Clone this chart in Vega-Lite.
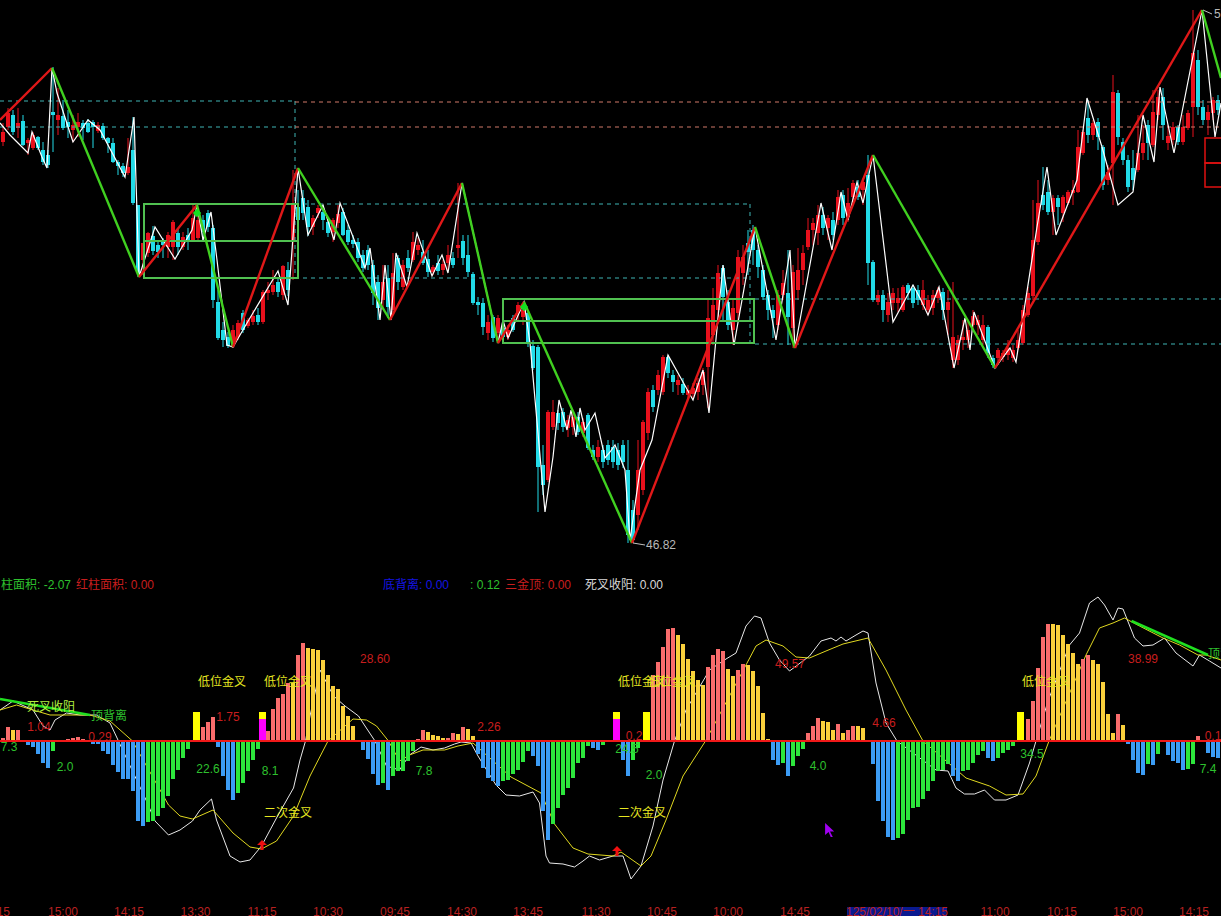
{"$schema":"https://vega.github.io/schema/vega-lite/v6.json","width":1221,"height":916,"autosize":{"type":"fit","contains":"padding"},"padding":0,"background":"#000000","config":{"view":{"stroke":null}},"resolve":{"scale":{"y":"independent"}},
"encoding":{"x":{"field":"i","type":"quantitative","axis":null,"scale":{"domain":[-0.6,243.6],"nice":false,"zero":false,"padding":0}}},
"datasets":{
"candles":[{"i":0,"o":54.84,"c":55.04,"h":55.22,"l":54.76},{"i":1,"o":55.14,"c":55.42,"h":55.52,"l":55.08},{"i":2,"o":55.38,"c":55.04,"h":55.48,"l":54.98},{"i":3,"o":55.12,"c":55.22,"h":55.52,"l":54.92},{"i":4,"o":55.26,"c":54.78,"h":55.38,"l":54.76},{"i":5,"o":54.82,"c":54.88,"h":54.92,"l":54.58},{"i":6,"o":54.72,"c":54.98,"h":55.04,"l":54.68},{"i":7,"o":54.94,"c":54.72,"h":54.96,"l":54.68},{"i":8,"o":54.68,"c":54.44,"h":54.84,"l":54.38},{"i":9,"o":54.58,"c":54.38,"h":54.68,"l":54.32},{"i":10,"o":55.44,"c":55.38,"h":56.34,"l":54.64},{"i":11,"o":55.28,"c":55.38,"h":55.92,"l":54.98},{"i":12,"o":55.36,"c":55.12,"h":55.68,"l":55.08},{"i":13,"o":55.24,"c":55.14,"h":55.48,"l":54.92},{"i":14,"o":55.08,"c":55.18,"h":55.38,"l":54.84},{"i":15,"o":55.14,"c":55.24,"h":55.42,"l":54.94},{"i":16,"o":55.22,"c":55.12,"h":55.28,"l":54.88},{"i":17,"o":55.22,"c":55.04,"h":55.30,"l":55.02},{"i":18,"o":55.24,"c":55.14,"h":55.28,"l":54.72},{"i":19,"o":55.06,"c":55.18,"h":55.24,"l":55.02},{"i":20,"o":55.16,"c":54.92,"h":55.22,"l":54.88},{"i":21,"o":54.92,"c":54.82,"h":54.94,"l":54.62},{"i":22,"o":54.82,"c":54.44,"h":54.92,"l":54.42},{"i":23,"o":54.44,"c":54.36,"h":54.48,"l":54.18},{"i":24,"o":54.36,"c":54.22,"h":54.42,"l":54.14},{"i":25,"o":54.22,"c":54.34,"h":54.92,"l":54.18},{"i":26,"o":54.68,"c":53.62,"h":55.34,"l":53.58},{"i":27,"o":53.58,"c":52.22,"h":53.58,"l":52.14},{"i":28,"o":52.48,"c":52.82,"h":52.82,"l":52.18},{"i":29,"o":52.62,"c":53.02,"h":53.04,"l":52.54},{"i":30,"o":52.96,"c":52.66,"h":53.16,"l":52.58},{"i":31,"o":52.78,"c":52.64,"h":52.88,"l":52.52},{"i":32,"o":52.88,"c":52.78,"h":52.92,"l":52.52},{"i":33,"o":52.74,"c":52.98,"h":53.04,"l":52.52},{"i":34,"o":52.74,"c":53.24,"h":53.28,"l":52.48},{"i":35,"o":53.02,"c":52.74,"h":53.12,"l":52.58},{"i":36,"o":52.74,"c":52.94,"h":53.04,"l":52.68},{"i":37,"o":52.98,"c":52.86,"h":53.12,"l":52.68},{"i":38,"o":52.88,"c":53.32,"h":53.58,"l":52.86},{"i":39,"o":52.92,"c":53.28,"h":53.38,"l":52.88},{"i":40,"o":53.28,"c":53.04,"h":53.38,"l":52.88},{"i":41,"o":53.42,"c":53.14,"h":53.48,"l":53.04},{"i":42,"o":53.12,"c":51.68,"h":53.18,"l":51.52},{"i":43,"o":51.64,"c":50.92,"h":51.88,"l":50.88},{"i":44,"o":51.08,"c":50.88,"h":51.24,"l":50.74},{"i":45,"o":50.94,"c":50.76,"h":51.04,"l":50.72},{"i":46,"o":50.76,"c":51.08,"h":51.18,"l":50.72},{"i":47,"o":50.94,"c":51.22,"h":51.28,"l":50.88},{"i":48,"o":51.42,"c":51.08,"h":51.48,"l":51.02},{"i":49,"o":51.16,"c":51.28,"h":51.32,"l":51.12},{"i":50,"o":51.24,"c":51.36,"h":51.48,"l":51.18},{"i":51,"o":51.38,"c":51.24,"h":51.52,"l":51.18},{"i":52,"o":51.24,"c":51.84,"h":51.88,"l":51.20},{"i":53,"o":51.82,"c":51.88,"h":52.04,"l":51.68},{"i":54,"o":51.84,"c":51.98,"h":52.28,"l":51.78},{"i":55,"o":52.04,"c":51.84,"h":52.12,"l":51.74},{"i":56,"o":51.78,"c":52.36,"h":52.38,"l":51.68},{"i":57,"o":52.28,"c":51.88,"h":52.44,"l":51.76},{"i":58,"o":52.84,"c":53.62,"h":54.28,"l":52.08},{"i":59,"o":53.54,"c":53.28,"h":53.88,"l":53.12},{"i":60,"o":53.72,"c":53.42,"h":53.88,"l":53.28},{"i":61,"o":53.54,"c":53.14,"h":53.68,"l":52.96},{"i":62,"o":53.14,"c":53.32,"h":53.38,"l":52.98},{"i":63,"o":53.42,"c":53.52,"h":53.58,"l":53.32},{"i":64,"o":53.44,"c":53.28,"h":53.58,"l":53.08},{"i":65,"o":53.24,"c":53.02,"h":53.32,"l":52.94},{"i":66,"o":53.04,"c":53.28,"h":53.32,"l":52.84},{"i":67,"o":53.22,"c":53.40,"h":53.58,"l":53.12},{"i":68,"o":53.44,"c":52.98,"h":53.52,"l":52.96},{"i":69,"o":53.08,"c":52.84,"h":53.18,"l":52.78},{"i":70,"o":52.88,"c":52.80,"h":52.98,"l":52.72},{"i":71,"o":52.84,"c":52.52,"h":52.92,"l":52.44},{"i":72,"o":52.58,"c":52.32,"h":52.68,"l":52.24},{"i":73,"o":52.68,"c":52.38,"h":52.78,"l":52.28},{"i":74,"o":52.38,"c":51.82,"h":52.48,"l":51.58},{"i":75,"o":52.04,"c":51.52,"h":52.18,"l":51.28},{"i":76,"o":51.68,"c":52.04,"h":52.38,"l":51.48},{"i":77,"o":52.12,"c":51.54,"h":52.38,"l":51.32},{"i":78,"o":51.48,"c":52.22,"h":52.62,"l":51.42},{"i":79,"o":52.52,"c":52.04,"h":52.58,"l":51.88},{"i":80,"o":51.94,"c":52.38,"h":52.48,"l":51.88},{"i":81,"o":52.52,"c":52.32,"h":52.68,"l":52.24},{"i":82,"o":52.48,"c":52.84,"h":53.04,"l":52.44},{"i":83,"o":52.68,"c":52.78,"h":52.92,"l":52.58},{"i":84,"o":52.64,"c":52.42,"h":52.88,"l":52.38},{"i":85,"o":52.50,"c":52.24,"h":52.68,"l":52.14},{"i":86,"o":52.24,"c":52.34,"h":52.38,"l":52.18},{"i":87,"o":52.42,"c":52.26,"h":52.58,"l":52.18},{"i":88,"o":52.28,"c":52.40,"h":52.48,"l":52.18},{"i":89,"o":52.42,"c":52.58,"h":52.78,"l":52.28},{"i":90,"o":52.52,"c":52.38,"h":52.64,"l":52.32},{"i":91,"o":52.72,"c":52.78,"h":54.02,"l":52.52},{"i":92,"o":52.86,"c":52.52,"h":52.98,"l":52.38},{"i":93,"o":52.58,"c":52.24,"h":52.98,"l":52.14},{"i":94,"o":52.20,"c":51.62,"h":52.24,"l":51.58},{"i":95,"o":51.64,"c":51.58,"h":51.74,"l":51.38},{"i":96,"o":51.62,"c":51.14,"h":51.72,"l":50.98},{"i":97,"o":51.02,"c":51.24,"h":51.38,"l":50.88},{"i":98,"o":51.34,"c":50.92,"h":51.38,"l":50.84},{"i":99,"o":51.02,"c":51.32,"h":51.38,"l":50.88},{"i":100,"o":51.12,"c":50.94,"h":51.24,"l":50.88},{"i":101,"o":50.94,"c":51.08,"h":51.18,"l":50.88},{"i":102,"o":51.32,"c":51.08,"h":51.38,"l":51.04},{"i":103,"o":51.44,"c":51.58,"h":51.64,"l":51.28},{"i":104,"o":51.34,"c":51.48,"h":51.58,"l":51.18},{"i":105,"o":51.42,"c":50.82,"h":51.48,"l":50.74},{"i":106,"o":50.76,"c":50.32,"h":50.88,"l":50.28},{"i":107,"o":50.74,"c":48.34,"h":50.78,"l":47.44},{"i":108,"o":48.38,"c":47.98,"h":48.78,"l":47.78},{"i":109,"o":48.08,"c":49.44,"h":49.48,"l":48.04},{"i":110,"o":49.14,"c":49.44,"h":49.68,"l":49.08},{"i":111,"o":49.42,"c":49.22,"h":49.48,"l":49.08},{"i":112,"o":49.44,"c":49.14,"h":49.52,"l":49.04},{"i":113,"o":49.12,"c":49.28,"h":49.38,"l":48.94},{"i":114,"o":49.14,"c":49.34,"h":49.48,"l":48.98},{"i":115,"o":49.34,"c":49.04,"h":49.44,"l":48.98},{"i":116,"o":49.02,"c":49.24,"h":49.32,"l":48.94},{"i":117,"o":49.38,"c":48.72,"h":49.42,"l":48.68},{"i":118,"o":48.68,"c":48.54,"h":48.78,"l":48.48},{"i":119,"o":48.54,"c":48.74,"h":48.88,"l":48.44},{"i":120,"o":48.68,"c":48.44,"h":48.78,"l":48.32},{"i":121,"o":48.78,"c":48.48,"h":48.88,"l":48.38},{"i":122,"o":48.74,"c":48.44,"h":48.88,"l":48.32},{"i":123,"o":48.68,"c":48.38,"h":48.82,"l":48.28},{"i":124,"o":48.78,"c":48.44,"h":48.88,"l":48.32},{"i":125,"o":48.28,"c":46.98,"h":48.88,"l":46.82},{"i":126,"o":47.48,"c":46.88,"h":47.68,"l":46.82},{"i":127,"o":47.38,"c":48.28,"h":48.88,"l":47.08},{"i":128,"o":47.88,"c":49.24,"h":49.28,"l":47.78},{"i":129,"o":49.02,"c":49.84,"h":49.92,"l":48.88},{"i":130,"o":49.88,"c":49.54,"h":49.98,"l":49.44},{"i":131,"o":49.88,"c":50.18,"h":50.28,"l":49.78},{"i":132,"o":49.84,"c":50.54,"h":50.58,"l":49.78},{"i":133,"o":50.54,"c":50.22,"h":50.58,"l":50.12},{"i":134,"o":50.18,"c":50.04,"h":50.28,"l":49.84},{"i":135,"o":49.98,"c":50.08,"h":50.18,"l":49.78},{"i":136,"o":50.00,"c":49.82,"h":50.12,"l":49.78},{"i":137,"o":49.78,"c":49.88,"h":49.98,"l":49.68},{"i":138,"o":49.80,"c":49.92,"h":50.02,"l":49.72},{"i":139,"o":49.84,"c":50.02,"h":50.12,"l":49.68},{"i":140,"o":49.98,"c":50.24,"h":50.32,"l":49.78},{"i":141,"o":50.34,"c":51.32,"h":51.68,"l":49.52},{"i":142,"o":50.98,"c":51.58,"h":51.92,"l":50.78},{"i":143,"o":51.48,"c":52.22,"h":52.38,"l":51.28},{"i":144,"o":52.32,"c":51.74,"h":52.38,"l":51.28},{"i":145,"o":51.64,"c":51.18,"h":51.88,"l":51.08},{"i":146,"o":51.08,"c":51.52,"h":51.68,"l":50.78},{"i":147,"o":51.42,"c":52.54,"h":52.68,"l":51.28},{"i":148,"o":52.22,"c":52.54,"h":52.78,"l":51.98},{"i":149,"o":52.82,"c":52.64,"h":53.08,"l":52.18},{"i":150,"o":53.08,"c":52.68,"h":53.18,"l":52.38},{"i":151,"o":52.68,"c":52.34,"h":52.78,"l":52.12},{"i":152,"o":52.28,"c":51.74,"h":52.38,"l":51.68},{"i":153,"o":51.78,"c":51.48,"h":51.88,"l":51.28},{"i":154,"o":51.48,"c":51.32,"h":51.58,"l":50.92},{"i":155,"o":51.18,"c":51.78,"h":51.88,"l":51.08},{"i":156,"o":51.78,"c":52.02,"h":52.28,"l":51.68},{"i":157,"o":51.82,"c":51.34,"h":52.68,"l":50.78},{"i":158,"o":51.12,"c":52.24,"h":52.38,"l":50.72},{"i":159,"o":51.88,"c":52.28,"h":52.72,"l":51.68},{"i":160,"o":52.28,"c":52.62,"h":52.78,"l":51.98},{"i":161,"o":52.74,"c":53.08,"h":53.32,"l":52.68},{"i":162,"o":53.08,"c":53.22,"h":53.32,"l":52.78},{"i":163,"o":53.02,"c":53.38,"h":53.58,"l":52.78},{"i":164,"o":53.38,"c":53.12,"h":53.54,"l":52.98},{"i":165,"o":53.12,"c":53.32,"h":53.38,"l":52.88},{"i":166,"o":53.28,"c":52.98,"h":53.44,"l":52.88},{"i":167,"o":53.28,"c":53.74,"h":53.88,"l":53.18},{"i":168,"o":53.78,"c":53.32,"h":53.88,"l":53.18},{"i":169,"o":53.34,"c":53.62,"h":53.92,"l":53.24},{"i":170,"o":53.74,"c":54.02,"h":54.08,"l":53.58},{"i":171,"o":53.94,"c":53.74,"h":54.08,"l":53.68},{"i":172,"o":53.88,"c":54.04,"h":54.12,"l":53.58},{"i":173,"o":54.18,"c":52.42,"h":54.58,"l":51.98},{"i":174,"o":52.44,"c":51.68,"h":52.48,"l":51.64},{"i":175,"o":51.64,"c":51.78,"h":51.88,"l":51.58},{"i":176,"o":51.78,"c":51.48,"h":51.88,"l":51.24},{"i":177,"o":51.38,"c":51.64,"h":51.82,"l":51.24},{"i":178,"o":51.62,"c":51.82,"h":51.92,"l":51.48},{"i":179,"o":51.62,"c":51.72,"h":51.92,"l":51.44},{"i":180,"o":51.48,"c":51.94,"h":51.98,"l":51.44},{"i":181,"o":51.98,"c":51.82,"h":52.02,"l":51.68},{"i":182,"o":51.92,"c":51.62,"h":51.98,"l":51.52},{"i":183,"o":51.88,"c":51.68,"h":51.98,"l":51.58},{"i":184,"o":51.58,"c":51.88,"h":52.08,"l":51.48},{"i":185,"o":51.48,"c":51.68,"h":51.78,"l":51.38},{"i":186,"o":51.52,"c":51.78,"h":51.88,"l":51.38},{"i":187,"o":51.72,"c":51.88,"h":51.94,"l":51.62},{"i":188,"o":51.84,"c":51.48,"h":51.92,"l":51.28},{"i":189,"o":51.48,"c":51.64,"h":51.88,"l":50.98},{"i":190,"o":50.48,"c":50.94,"h":52.04,"l":50.32},{"i":191,"o":50.48,"c":50.88,"h":50.98,"l":50.38},{"i":192,"o":50.88,"c":50.94,"h":51.28,"l":50.68},{"i":193,"o":50.88,"c":51.08,"h":51.28,"l":50.72},{"i":194,"o":51.18,"c":51.36,"h":51.48,"l":51.08},{"i":195,"o":51.18,"c":51.28,"h":51.38,"l":50.98},{"i":196,"o":50.88,"c":51.18,"h":51.38,"l":50.78},{"i":197,"o":51.14,"c":50.62,"h":51.18,"l":50.52},{"i":198,"o":50.52,"c":50.38,"h":50.58,"l":50.32},{"i":199,"o":50.52,"c":50.68,"h":50.72,"l":50.38},{"i":200,"o":50.54,"c":50.62,"h":50.68,"l":50.44},{"i":201,"o":50.58,"c":50.72,"h":50.88,"l":50.48},{"i":202,"o":50.52,"c":50.68,"h":50.78,"l":50.44},{"i":203,"o":50.72,"c":50.88,"h":51.08,"l":50.68},{"i":204,"o":50.82,"c":51.48,"h":51.58,"l":50.78},{"i":205,"o":51.38,"c":51.82,"h":51.94,"l":51.34},{"i":206,"o":51.76,"c":52.88,"h":53.68,"l":51.68},{"i":207,"o":52.84,"c":53.62,"h":54.08,"l":52.78},{"i":208,"o":53.78,"c":53.58,"h":54.34,"l":53.48},{"i":209,"o":53.84,"c":53.44,"h":54.08,"l":53.38},{"i":210,"o":53.44,"c":53.72,"h":53.78,"l":52.98},{"i":211,"o":53.72,"c":53.54,"h":53.78,"l":53.18},{"i":212,"o":53.42,"c":53.74,"h":53.78,"l":53.24},{"i":213,"o":53.62,"c":53.84,"h":53.88,"l":53.58},{"i":214,"o":53.82,"c":53.88,"h":54.08,"l":53.58},{"i":215,"o":53.84,"c":54.74,"h":55.08,"l":53.82},{"i":216,"o":54.62,"c":55.04,"h":55.08,"l":54.58},{"i":217,"o":55.32,"c":54.98,"h":55.68,"l":54.82},{"i":218,"o":54.98,"c":55.22,"h":55.28,"l":54.88},{"i":219,"o":55.24,"c":54.94,"h":55.32,"l":54.68},{"i":220,"o":54.74,"c":53.98,"h":54.78,"l":53.88},{"i":221,"o":54.08,"c":54.24,"h":54.38,"l":53.98},{"i":222,"o":54.42,"c":55.84,"h":56.18,"l":53.58},{"i":223,"o":55.82,"c":54.94,"h":55.88,"l":54.78},{"i":224,"o":54.84,"c":54.48,"h":54.92,"l":54.38},{"i":225,"o":54.48,"c":53.94,"h":54.58,"l":53.84},{"i":226,"o":54.32,"c":54.08,"h":54.68,"l":53.88},{"i":227,"o":54.28,"c":54.62,"h":55.38,"l":54.24},{"i":228,"o":54.62,"c":54.82,"h":55.18,"l":54.48},{"i":229,"o":55.18,"c":54.82,"h":55.28,"l":54.48},{"i":230,"o":54.78,"c":55.44,"h":55.88,"l":54.74},{"i":231,"o":55.38,"c":55.74,"h":55.88,"l":55.28},{"i":232,"o":55.74,"c":55.18,"h":55.92,"l":54.88},{"i":233,"o":54.82,"c":54.96,"h":55.18,"l":54.68},{"i":234,"o":54.88,"c":55.14,"h":55.24,"l":54.78},{"i":235,"o":55.14,"c":54.84,"h":55.18,"l":54.78},{"i":236,"o":54.84,"c":55.14,"h":55.38,"l":54.78},{"i":237,"o":55.12,"c":55.42,"h":55.48,"l":55.08},{"i":238,"o":55.54,"c":56.62,"h":57.48,"l":54.94},{"i":239,"o":56.48,"c":55.54,"h":56.68,"l":55.38},{"i":240,"o":55.54,"c":55.28,"h":55.68,"l":55.18},{"i":241,"o":55.28,"c":55.44,"h":55.58,"l":54.98},{"i":242,"o":55.42,"c":55.68,"h":55.74,"l":55.28},{"i":243,"o":55.68,"c":55.48,"h":55.78,"l":55.38}],
"close":[{"i":-0.6,"p":55.22},{"i":1.4,"p":54.98},{"i":5,"p":54.62},{"i":5.8,"p":55.04},{"i":7.8,"p":54.54},{"i":8.8,"p":54.32},{"i":9.8,"p":56.32},{"i":10.8,"p":55.82},{"i":14,"p":54.84},{"i":17,"p":55.28},{"i":19.4,"p":55.08},{"i":24.4,"p":54.14},{"i":26.2,"p":55.34},{"i":27.2,"p":52.14},{"i":30.4,"p":53.14},{"i":34.4,"p":52.5},{"i":37.8,"p":53.08},{"i":38.8,"p":53.58},{"i":40,"p":52.88},{"i":41.6,"p":53.44},{"i":42.8,"p":52.48},{"i":44.8,"p":50.78},{"i":46,"p":50.74},{"i":48.8,"p":51.22},{"i":55,"p":52.26},{"i":57,"p":51.58},{"i":59,"p":54.32},{"i":61,"p":52.98},{"i":64,"p":53.58},{"i":66.2,"p":52.88},{"i":67.4,"p":53.62},{"i":72.4,"p":52.32},{"i":73.4,"p":52.72},{"i":75.4,"p":51.28},{"i":76.4,"p":52.38},{"i":77.6,"p":51.28},{"i":78.6,"p":52.62},{"i":80.8,"p":51.94},{"i":82.8,"p":53.02},{"i":85.8,"p":52.16},{"i":87.8,"p":52.58},{"i":89,"p":52.22},{"i":91.8,"p":54.02},{"i":99,"p":50.82},{"i":100,"p":51.28},{"i":101,"p":50.92},{"i":104.2,"p":51.64},{"i":105.4,"p":50.82},{"i":108.4,"p":47.44},{"i":110,"p":48.54},{"i":111.2,"p":49.68},{"i":112.8,"p":49.08},{"i":113.6,"p":49.48},{"i":114.6,"p":48.94},{"i":115.4,"p":49.52},{"i":116.4,"p":49.08},{"i":118.4,"p":49.42},{"i":120.4,"p":48.52},{"i":121.4,"p":48.64},{"i":122.4,"p":48.78},{"i":124.4,"p":48.28},{"i":125.4,"p":46.88},{"i":127.4,"p":48.28},{"i":129.8,"p":48.88},{"i":133,"p":50.58},{"i":138,"p":49.68},{"i":140,"p":50.28},{"i":141.2,"p":49.42},{"i":144,"p":52.38},{"i":146.2,"p":50.78},{"i":150.4,"p":53.14},{"i":154.6,"p":50.88},{"i":157.4,"p":52.68},{"i":158.4,"p":50.72},{"i":163.6,"p":53.62},{"i":165.8,"p":52.68},{"i":167.6,"p":53.84},{"i":169,"p":53.28},{"i":170.8,"p":54.04},{"i":172,"p":53.62},{"i":174,"p":54.58},{"i":178,"p":51.24},{"i":182,"p":51.98},{"i":183.4,"p":51.72},{"i":185,"p":51.38},{"i":187.2,"p":51.94},{"i":190.2,"p":50.32},{"i":192.4,"p":51.32},{"i":193.4,"p":50.68},{"i":194.2,"p":51.44},{"i":198.4,"p":50.32},{"i":201.4,"p":50.72},{"i":202.6,"p":50.44},{"i":206.8,"p":53.14},{"i":208.8,"p":54.34},{"i":210.6,"p":52.98},{"i":214.8,"p":54.08},{"i":216.8,"p":55.72},{"i":219.8,"p":54.74},{"i":223,"p":53.58},{"i":226,"p":53.84},{"i":228,"p":55.38},{"i":230.2,"p":54.44},{"i":231.4,"p":55.94},{"i":234.2,"p":54.62},{"i":239.8,"p":57.48},{"i":242.4,"p":54.94},{"i":243.6,"p":55.62}],
"zig":[{"s":1,"k":"up","i":-0.6,"p":55.28},{"s":1,"k":"up","i":9.8,"p":56.32},{"s":2,"k":"down","i":9.8,"p":56.32},{"s":2,"k":"down","i":27.2,"p":52.14},{"s":3,"k":"up","i":27.2,"p":52.14},{"s":3,"k":"up","i":38.8,"p":53.58},{"s":4,"k":"down","i":38.8,"p":53.58},{"s":4,"k":"down","i":46,"p":50.74},{"s":5,"k":"up","i":46,"p":50.74},{"s":5,"k":"up","i":59,"p":54.32},{"s":6,"k":"down","i":59,"p":54.32},{"s":6,"k":"down","i":77.4,"p":51.28},{"s":7,"k":"up","i":77.4,"p":51.28},{"s":7,"k":"up","i":91.8,"p":54.02},{"s":8,"k":"down","i":91.8,"p":54.02},{"s":8,"k":"down","i":99,"p":50.82},{"s":9,"k":"up","i":99,"p":50.82},{"s":9,"k":"up","i":104.2,"p":51.64},{"s":10,"k":"down","i":104.2,"p":51.64},{"s":10,"k":"down","i":125.8,"p":46.82},{"s":11,"k":"up","i":125.8,"p":46.82},{"s":11,"k":"up","i":150.4,"p":53.14},{"s":12,"k":"down","i":150.4,"p":53.14},{"s":12,"k":"down","i":158.4,"p":50.72},{"s":13,"k":"up","i":158.4,"p":50.72},{"s":13,"k":"up","i":174,"p":54.58},{"s":14,"k":"down","i":174,"p":54.58},{"s":14,"k":"down","i":198.4,"p":50.32},{"s":15,"k":"up","i":198.4,"p":50.32},{"s":15,"k":"up","i":239.8,"p":57.48},{"s":16,"k":"down","i":239.8,"p":57.48},{"s":16,"k":"down","i":243.6,"p":56.12}],
"boxes":[{"i":28.2,"i2":59,"p":53.6,"p2":52.86},{"i":28.2,"i2":59,"p":52.86,"p2":52.12},{"i":100,"i2":150.2,"p":51.7,"p2":51.26},{"i":100,"i2":150.2,"p":51.26,"p2":50.82}],
"redboxes":[{"i":240.4,"i2":246,"p":54.92,"p2":54.42},{"i":240.4,"i2":246,"p":54.42,"p2":53.94}],
"cyan":[{"i":-0.6,"i2":58.4,"p":55.66,"p2":55.66},{"i":-0.6,"i2":58.4,"p":55.14,"p2":55.14},{"i":58.4,"i2":58.4,"p":55.66,"p2":52.12},{"i":58.4,"i2":149.4,"p":53.6,"p2":53.6},{"i":58.4,"i2":149.4,"p":52.12,"p2":52.12},{"i":149.4,"i2":149.4,"p":53.6,"p2":50.8},{"i":150.4,"i2":243.6,"p":51.7,"p2":51.7},{"i":150.4,"i2":243.6,"p":50.8,"p2":50.8}],
"pinkd":[{"i":58.4,"i2":243.6,"p":55.64,"p2":55.64},{"i":58.4,"i2":243.6,"p":55.14,"p2":55.14}],
"lead":[{"i":126,"i2":128.4,"p":46.82,"p2":46.78},{"i":240,"i2":241.8,"p":57.48,"p2":57.4}],
"pricetext":[{"i":128.6,"p":46.78,"t":"46.82"},{"i":242.2,"p":57.4,"t":"57.48"}],
"diam":[{"i":38.8,"p":53.42},{"i":104.2,"p":51.54}],
"hist":[{"i":0,"v":3,"c":"p"},{"i":1,"v":14,"c":"p"},{"i":2,"v":11,"c":"y"},{"i":3,"v":11,"c":"p"},{"i":4,"v":1,"c":"y"},{"i":5,"v":-4,"c":"b"},{"i":6,"v":-6,"c":"b"},{"i":7,"v":-13,"c":"b"},{"i":8,"v":-22,"c":"b"},{"i":9,"v":-27,"c":"b"},{"i":10,"v":-10,"c":"g"},{"i":12,"v":1,"c":"p"},{"i":13,"v":2,"c":"p"},{"i":14,"v":3,"c":"p"},{"i":15,"v":4,"c":"p"},{"i":16,"v":2,"c":"p"},{"i":17,"v":1,"c":"y"},{"i":18,"v":-3,"c":"b"},{"i":19,"v":-3,"c":"b"},{"i":20,"v":-10,"c":"b"},{"i":21,"v":-13,"c":"b"},{"i":22,"v":-24,"c":"b"},{"i":23,"v":-31,"c":"b"},{"i":24,"v":-38,"c":"b"},{"i":25,"v":-38,"c":"b"},{"i":26,"v":-50,"c":"b"},{"i":27,"v":-80,"c":"b"},{"i":28,"v":-85,"c":"b"},{"i":29,"v":-81,"c":"g"},{"i":30,"v":-80,"c":"g"},{"i":31,"v":-75,"c":"g"},{"i":32,"v":-67,"c":"g"},{"i":33,"v":-55,"c":"g"},{"i":34,"v":-38,"c":"g"},{"i":35,"v":-29,"c":"g"},{"i":36,"v":-17,"c":"g"},{"i":37,"v":-8,"c":"g"},{"i":40,"v":14,"c":"p"},{"i":41,"v":19,"c":"p"},{"i":42,"v":24,"c":"p"},{"i":43,"v":-6,"c":"b"},{"i":44,"v":-35,"c":"b"},{"i":45,"v":-49,"c":"b"},{"i":46,"v":-59,"c":"b"},{"i":47,"v":-52,"c":"g"},{"i":48,"v":-42,"c":"g"},{"i":49,"v":-30,"c":"g"},{"i":50,"v":-19,"c":"g"},{"i":51,"v":-8,"c":"g"},{"i":53,"v":10,"c":"p"},{"i":54,"v":32,"c":"p"},{"i":55,"v":43,"c":"p"},{"i":56,"v":47,"c":"p"},{"i":57,"v":58,"c":"p"},{"i":58,"v":58,"c":"y"},{"i":59,"v":86,"c":"p"},{"i":60,"v":98,"c":"p"},{"i":61,"v":93,"c":"y"},{"i":62,"v":92,"c":"y"},{"i":63,"v":91,"c":"y"},{"i":64,"v":81,"c":"y"},{"i":65,"v":66,"c":"y"},{"i":66,"v":55,"c":"y"},{"i":67,"v":52,"c":"y"},{"i":68,"v":35,"c":"y"},{"i":69,"v":25,"c":"y"},{"i":70,"v":15,"c":"y"},{"i":72,"v":-9,"c":"b"},{"i":73,"v":-18,"c":"b"},{"i":74,"v":-33,"c":"b"},{"i":75,"v":-44,"c":"b"},{"i":76,"v":-42,"c":"g"},{"i":77,"v":-49,"c":"b"},{"i":78,"v":-35,"c":"g"},{"i":79,"v":-30,"c":"g"},{"i":80,"v":-30,"c":"g"},{"i":81,"v":-20,"c":"g"},{"i":82,"v":-10,"c":"g"},{"i":83,"v":2,"c":"p"},{"i":84,"v":11,"c":"p"},{"i":85,"v":9,"c":"y"},{"i":86,"v":6,"c":"y"},{"i":87,"v":5,"c":"y"},{"i":88,"v":3,"c":"y"},{"i":89,"v":3,"c":"p"},{"i":90,"v":8,"c":"p"},{"i":91,"v":7,"c":"y"},{"i":92,"v":14,"c":"p"},{"i":93,"v":12,"c":"y"},{"i":94,"v":5,"c":"y"},{"i":95,"v":-13,"c":"b"},{"i":96,"v":-27,"c":"b"},{"i":97,"v":-37,"c":"b"},{"i":98,"v":-40,"c":"b"},{"i":99,"v":-45,"c":"b"},{"i":100,"v":-40,"c":"g"},{"i":101,"v":-39,"c":"g"},{"i":102,"v":-33,"c":"g"},{"i":103,"v":-29,"c":"g"},{"i":104,"v":-21,"c":"g"},{"i":105,"v":-10,"c":"g"},{"i":106,"v":-15,"c":"b"},{"i":107,"v":-25,"c":"b"},{"i":108,"v":-70,"c":"b"},{"i":109,"v":-99,"c":"b"},{"i":110,"v":-83,"c":"g"},{"i":111,"v":-67,"c":"g"},{"i":112,"v":-54,"c":"g"},{"i":113,"v":-47,"c":"g"},{"i":114,"v":-37,"c":"g"},{"i":115,"v":-22,"c":"g"},{"i":116,"v":-17,"c":"g"},{"i":117,"v":-5,"c":"g"},{"i":118,"v":-7,"c":"b"},{"i":119,"v":-9,"c":"b"},{"i":120,"v":-4,"c":"g"},{"i":123,"v":5,"c":"p"},{"i":124,"v":-19,"c":"b"},{"i":125,"v":-35,"c":"b"},{"i":126,"v":-19,"c":"g"},{"i":127,"v":-7,"c":"g"},{"i":130,"v":66,"c":"p"},{"i":131,"v":79,"c":"p"},{"i":132,"v":94,"c":"p"},{"i":133,"v":112,"c":"p"},{"i":134,"v":113,"c":"p"},{"i":135,"v":106,"c":"y"},{"i":136,"v":97,"c":"y"},{"i":137,"v":82,"c":"y"},{"i":138,"v":70,"c":"y"},{"i":139,"v":61,"c":"y"},{"i":140,"v":56,"c":"y"},{"i":141,"v":74,"c":"p"},{"i":142,"v":86,"c":"p"},{"i":143,"v":92,"c":"p"},{"i":144,"v":90,"c":"p"},{"i":145,"v":72,"c":"y"},{"i":146,"v":65,"c":"y"},{"i":147,"v":71,"c":"p"},{"i":148,"v":77,"c":"p"},{"i":149,"v":76,"c":"y"},{"i":150,"v":70,"c":"y"},{"i":151,"v":55,"c":"y"},{"i":152,"v":28,"c":"y"},{"i":153,"v":2,"c":"y"},{"i":154,"v":-19,"c":"b"},{"i":155,"v":-24,"c":"b"},{"i":156,"v":-22,"c":"g"},{"i":157,"v":-35,"c":"b"},{"i":158,"v":-25,"c":"g"},{"i":159,"v":-15,"c":"g"},{"i":160,"v":-8,"c":"g"},{"i":161,"v":8,"c":"p"},{"i":162,"v":15,"c":"p"},{"i":163,"v":23,"c":"p"},{"i":164,"v":20,"c":"y"},{"i":165,"v":19,"c":"y"},{"i":166,"v":11,"c":"y"},{"i":167,"v":17,"c":"p"},{"i":168,"v":8,"c":"y"},{"i":169,"v":11,"c":"p"},{"i":170,"v":15,"c":"p"},{"i":171,"v":15,"c":"y"},{"i":172,"v":13,"c":"y"},{"i":174,"v":-23,"c":"b"},{"i":175,"v":-60,"c":"b"},{"i":176,"v":-80,"c":"b"},{"i":177,"v":-96,"c":"b"},{"i":178,"v":-99,"c":"b"},{"i":179,"v":-97,"c":"g"},{"i":180,"v":-93,"c":"g"},{"i":181,"v":-79,"c":"g"},{"i":182,"v":-67,"c":"g"},{"i":183,"v":-66,"c":"g"},{"i":184,"v":-58,"c":"g"},{"i":185,"v":-50,"c":"g"},{"i":186,"v":-40,"c":"g"},{"i":187,"v":-30,"c":"g"},{"i":188,"v":-29,"c":"g"},{"i":189,"v":-23,"c":"g"},{"i":190,"v":-35,"c":"b"},{"i":191,"v":-40,"c":"b"},{"i":192,"v":-30,"c":"g"},{"i":193,"v":-29,"c":"g"},{"i":194,"v":-22,"c":"g"},{"i":195,"v":-14,"c":"g"},{"i":196,"v":-10,"c":"g"},{"i":197,"v":-17,"c":"b"},{"i":198,"v":-20,"c":"b"},{"i":199,"v":-17,"c":"g"},{"i":200,"v":-12,"c":"g"},{"i":201,"v":-9,"c":"g"},{"i":202,"v":-5,"c":"g"},{"i":205,"v":22,"c":"p"},{"i":206,"v":40,"c":"p"},{"i":207,"v":73,"c":"p"},{"i":208,"v":104,"c":"p"},{"i":209,"v":117,"c":"p"},{"i":210,"v":117,"c":"y"},{"i":211,"v":116,"c":"y"},{"i":212,"v":106,"c":"y"},{"i":213,"v":97,"c":"y"},{"i":214,"v":88,"c":"y"},{"i":215,"v":77,"c":"y"},{"i":216,"v":82,"c":"p"},{"i":217,"v":86,"c":"p"},{"i":218,"v":81,"c":"y"},{"i":219,"v":77,"c":"y"},{"i":220,"v":59,"c":"y"},{"i":221,"v":27,"c":"y"},{"i":222,"v":8,"c":"y"},{"i":223,"v":27,"c":"p"},{"i":224,"v":16,"c":"y"},{"i":225,"v":-3,"c":"b"},{"i":226,"v":-19,"c":"b"},{"i":227,"v":-32,"c":"b"},{"i":228,"v":-34,"c":"b"},{"i":229,"v":-23,"c":"g"},{"i":230,"v":-24,"c":"b"},{"i":231,"v":-13,"c":"g"},{"i":232,"v":-1,"c":"g"},{"i":233,"v":-14,"c":"b"},{"i":234,"v":-20,"c":"b"},{"i":235,"v":-22,"c":"b"},{"i":236,"v":-29,"c":"b"},{"i":237,"v":-28,"c":"g"},{"i":238,"v":-23,"c":"g"},{"i":239,"v":5,"c":"p"},{"i":240,"v":-1,"c":"b"},{"i":241,"v":-12,"c":"b"},{"i":242,"v":-16,"c":"b"},{"i":243,"v":-17,"c":"b"}],
"signalY":[{"i":38.7,"v":29},{"i":128.7,"v":29},{"i":203.5,"v":29},{"i":51.9,"v":29},{"i":122.7,"v":29}],
"signalM":[{"i":51.9,"v":22},{"i":122.7,"v":22}],
"dif":[{"i":-0.6,"v":31},{"i":2,"v":40},{"i":6,"v":31},{"i":8,"v":15},{"i":9.4,"v":11},{"i":10.4,"v":21},{"i":12.7,"v":28},{"i":15.4,"v":26},{"i":18.7,"v":26},{"i":21.4,"v":18},{"i":23,"v":1},{"i":28.7,"v":-60},{"i":30.4,"v":-80},{"i":33.1,"v":-94},{"i":35.4,"v":-89},{"i":37.9,"v":-80},{"i":39.4,"v":-69},{"i":41.7,"v":-58},{"i":42.7,"v":-79},{"i":45.4,"v":-115},{"i":47.4,"v":-121},{"i":49.4,"v":-119},{"i":51.7,"v":-105},{"i":54.7,"v":-77},{"i":58.1,"v":-47},{"i":59.4,"v":-19},{"i":60.5,"v":0},{"i":61.4,"v":25},{"i":63.4,"v":71},{"i":66.1,"v":45},{"i":68.4,"v":35},{"i":71.1,"v":25},{"i":72.4,"v":15},{"i":74.4,"v":0},{"i":76.7,"v":-25},{"i":79.3,"v":-29},{"i":81.3,"v":-14},{"i":83.6,"v":-6},{"i":86,"v":-9},{"i":88.3,"v":-7},{"i":90.3,"v":-3},{"i":91.6,"v":-1},{"i":93.6,"v":-2},{"i":95,"v":-15},{"i":98.6,"v":-44},{"i":100.6,"v":-54},{"i":103.3,"v":-55},{"i":106,"v":-51},{"i":107.3,"v":-62},{"i":108.6,"v":-115},{"i":109.3,"v":-122},{"i":112,"v":-123},{"i":114.3,"v":-126},{"i":116,"v":-120},{"i":117.3,"v":-115},{"i":119.3,"v":-119},{"i":122,"v":-115},{"i":124,"v":-115},{"i":125.6,"v":-138},{"i":127.6,"v":-125},{"i":130,"v":-85},{"i":132,"v":-39},{"i":134.3,"v":0},{"i":136.6,"v":31},{"i":141.3,"v":71},{"i":144.6,"v":82},{"i":146.6,"v":88},{"i":148.6,"v":115},{"i":150.3,"v":125},{"i":151.6,"v":123},{"i":153.3,"v":98},{"i":155.3,"v":81},{"i":157.3,"v":70},{"i":161.3,"v":85},{"i":163.6,"v":100},{"i":165.6,"v":103},{"i":166.6,"v":100},{"i":167.6,"v":104},{"i":168.6,"v":100},{"i":170.6,"v":106},{"i":172,"v":110},{"i":173,"v":108},{"i":174.6,"v":58},{"i":176.6,"v":18},{"i":178.8,"v":0},{"i":186.6,"v":-29},{"i":189,"v":-30},{"i":190.6,"v":-47},{"i":192.3,"v":-53},{"i":194.3,"v":-53},{"i":196.3,"v":-49},{"i":198.3,"v":-59},{"i":200.6,"v":-59},{"i":203,"v":-54},{"i":205.3,"v":-22},{"i":206.6,"v":0},{"i":209,"v":40},{"i":213.3,"v":96},{"i":215.3,"v":108},{"i":217.3,"v":138},{"i":219,"v":144},{"i":220.3,"v":136},{"i":222,"v":121},{"i":223,"v":133},{"i":224,"v":132},{"i":226.3,"v":103},{"i":228,"v":95},{"i":230,"v":96},{"i":232.3,"v":103},{"i":234.6,"v":88},{"i":238,"v":75},{"i":239.3,"v":86},{"i":241.3,"v":80},{"i":243.6,"v":73}],
"dea":[{"i":-0.6,"v":31},{"i":2.7,"v":36},{"i":6,"v":31},{"i":9.4,"v":26},{"i":13.4,"v":26},{"i":17.4,"v":26},{"i":21.4,"v":20},{"i":25.9,"v":0},{"i":33.1,"v":-64},{"i":35.4,"v":-75},{"i":37.9,"v":-78},{"i":42,"v":-69},{"i":46,"v":-92},{"i":49.4,"v":-106},{"i":51.7,"v":-108},{"i":54.7,"v":-100},{"i":58.1,"v":-75},{"i":61.4,"v":-35},{"i":65,"v":0},{"i":70,"v":22},{"i":72.7,"v":21},{"i":74.7,"v":15},{"i":77.1,"v":0},{"i":79.3,"v":-20},{"i":81.3,"v":-14},{"i":84,"v":-9},{"i":88.3,"v":-9},{"i":91,"v":-5},{"i":94,"v":-2},{"i":101.6,"v":-36},{"i":104.6,"v":-44},{"i":107.6,"v":-52},{"i":110.3,"v":-83},{"i":114,"v":-107},{"i":117,"v":-113},{"i":122,"v":-115},{"i":123.6,"v":-111},{"i":127.6,"v":-125},{"i":129.6,"v":-115},{"i":132.6,"v":-79},{"i":136,"v":-35},{"i":140.5,"v":0},{"i":148.6,"v":76},{"i":150.6,"v":95},{"i":152.6,"v":101},{"i":156,"v":95},{"i":158.6,"v":84},{"i":161.3,"v":83},{"i":164.6,"v":90},{"i":168,"v":97},{"i":173,"v":103},{"i":176.6,"v":71},{"i":180.6,"v":31},{"i":184,"v":0},{"i":192.6,"v":-37},{"i":197.3,"v":-45},{"i":200.6,"v":-54},{"i":204,"v":-53},{"i":206.6,"v":-35},{"i":209.2,"v":0},{"i":216.6,"v":86},{"i":219.3,"v":113},{"i":222,"v":118},{"i":224.3,"v":123},{"i":227.3,"v":115},{"i":232,"v":103},{"i":235.3,"v":96},{"i":239,"v":86},{"i":240.6,"v":86},{"i":243.6,"v":81}],
"thick":[{"s":1,"i":-0.6,"v":42},{"s":1,"i":17.4,"v":26},{"s":2,"i":225.7,"v":120},{"s":2,"i":241,"v":86}],
"arrows":[{"i":51.8,"v":-104},{"i":122.8,"v":-110}],
"cursor":[{"i":165.4,"v":-89}],
"dateband":[{"i":168.8,"i2":188.8,"v":-166,"v2":-175}],
"labels":[{"i":43.8,"v":59,"t":"低位金叉","k":"gold"},{"i":57,"v":59,"t":"低位金叉","k":"gold"},{"i":127.8,"v":59,"t":"低位金叉","k":"gold"},{"i":133.8,"v":59,"t":"低位金叉","k":"gold"},{"i":208.6,"v":59,"t":"低位金叉","k":"gold"},{"i":57,"v":-72,"t":"二次金叉","k":"gold"},{"i":127.8,"v":-72,"t":"二次金叉","k":"gold"},{"i":9.6,"v":34,"t":"死叉收阳","k":"lime"},{"i":21.2,"v":25,"t":"顶背离","k":"green"},{"i":244.6,"v":87,"t":"顶背离","k":"green"},{"i":7.2,"v":14,"t":"1.04","k":"red"},{"i":19.4,"v":4,"t":"0.29","k":"red"},{"i":45,"v":24,"t":"1.75","k":"red"},{"i":74.4,"v":82,"t":"28.60","k":"red"},{"i":97.2,"v":14,"t":"2.26","k":"red"},{"i":126.2,"v":5,"t":"0.2","k":"red"},{"i":157.4,"v":77,"t":"49.57","k":"red"},{"i":176.2,"v":18,"t":"4.66","k":"red"},{"i":228,"v":82,"t":"38.99","k":"red"},{"i":242,"v":5,"t":"0.1","k":"red"},{"i":1.2,"v":-6,"t":"7.3","k":"green"},{"i":12.4,"v":-26,"t":"2.0","k":"green"},{"i":41,"v":-28,"t":"22.6","k":"green"},{"i":53.4,"v":-30,"t":"8.1","k":"green"},{"i":84.2,"v":-30,"t":"7.8","k":"green"},{"i":124.8,"v":-8,"t":"24.5","k":"green"},{"i":130.2,"v":-34,"t":"2.0","k":"green"},{"i":163,"v":-25,"t":"4.0","k":"green"},{"i":205.8,"v":-13,"t":"34.5","k":"green"},{"i":241,"v":-28,"t":"7.4","k":"green"},{"i":-1.6,"v":-171,"t":"14:15","k":"time"},{"i":12,"v":-171,"t":"15:00","k":"time"},{"i":25.2,"v":-171,"t":"14:15","k":"time"},{"i":38.5,"v":-171,"t":"13:30","k":"time"},{"i":51.8,"v":-171,"t":"11:15","k":"time"},{"i":65,"v":-171,"t":"10:30","k":"time"},{"i":78.4,"v":-171,"t":"09:45","k":"time"},{"i":91.8,"v":-171,"t":"14:30","k":"time"},{"i":105,"v":-171,"t":"13:45","k":"time"},{"i":118.6,"v":-171,"t":"11:30","k":"time"},{"i":131.8,"v":-171,"t":"10:45","k":"time"},{"i":145,"v":-171,"t":"10:00","k":"time"},{"i":158.4,"v":-171,"t":"14:45","k":"time"},{"i":178.8,"v":-171,"t":"125/02/10/一 14:15","k":"time"},{"i":198.4,"v":-171,"t":"11:00","k":"time"},{"i":211.8,"v":-171,"t":"10:15","k":"time"},{"i":225,"v":-171,"t":"15:00","k":"time"},{"i":238.2,"v":-171,"t":"14:15","k":"time"}],
"header":[{"i":-0.4,"v":156,"t":"柱面积: -2.07","k":"green"},{"i":14.6,"v":156,"t":"红柱面积: 0.00","k":"red"},{"i":76,"v":156,"t":"底背离: 0.00","k":"navy"},{"i":93.4,"v":156,"t":": 0.12","k":"green"},{"i":100.4,"v":156,"t":"三金顶: 0.00","k":"red"},{"i":116.4,"v":156,"t":"死叉收阳: 0.00","k":"white"}]
},
"layer":[
{"data":{"name":"candles"},"mark":{"type":"rule","strokeWidth":1,"clip":true},"encoding":{"y":{"field":"l","type":"quantitative","axis":null,"scale":{"domain":[39.36,57.68],"nice":false,"zero":false}},"y2":{"field":"h"},"color":{"condition":{"test":"datum.c>=datum.o","value":"#e8101c"},"value":"#22dbe8"}}},
{"data":{"name":"candles"},"mark":{"type":"bar","size":4,"clip":true},"encoding":{"y":{"field":"o","type":"quantitative","axis":null,"scale":{"domain":[39.36,57.68],"nice":false,"zero":false}},"y2":{"field":"c"},"color":{"condition":{"test":"datum.c>=datum.o","value":"#e8101c"},"value":"#22dbe8"}}},
{"data":{"name":"cyan"},"mark":{"type":"rule","strokeWidth":1,"strokeDash":[4,4],"color":"#3fb4b4","clip":true},"encoding":{"x2":{"field":"i2"},"y":{"field":"p","type":"quantitative","axis":null,"scale":{"domain":[39.36,57.68],"nice":false,"zero":false}},"y2":{"field":"p2"}}},
{"data":{"name":"pinkd"},"mark":{"type":"rule","strokeWidth":1,"strokeDash":[4,4],"color":"#d07868","clip":true},"encoding":{"x2":{"field":"i2"},"y":{"field":"p","type":"quantitative","axis":null,"scale":{"domain":[39.36,57.68],"nice":false,"zero":false}},"y2":{"field":"p2"}}},
{"data":{"name":"close"},"mark":{"type":"line","strokeWidth":1.2,"color":"#ffffff","clip":true},"encoding":{"y":{"field":"p","type":"quantitative","axis":null,"scale":{"domain":[39.36,57.68],"nice":false,"zero":false}}}},
{"data":{"name":"boxes"},"mark":{"type":"rect","fillOpacity":0,"stroke":"#50c050","strokeWidth":2,"clip":true},"encoding":{"x2":{"field":"i2"},"y":{"field":"p","type":"quantitative","axis":null,"scale":{"domain":[39.36,57.68],"nice":false,"zero":false}},"y2":{"field":"p2"}}},
{"data":{"name":"redboxes"},"mark":{"type":"rect","fillOpacity":0,"stroke":"#e01010","strokeWidth":1.5,"clip":true},"encoding":{"x2":{"field":"i2"},"y":{"field":"p","type":"quantitative","axis":null,"scale":{"domain":[39.36,57.68],"nice":false,"zero":false}},"y2":{"field":"p2"}}},
{"data":{"name":"zig"},"mark":{"type":"line","strokeWidth":2.4,"clip":true},"encoding":{"y":{"field":"p","type":"quantitative","axis":null,"scale":{"domain":[39.36,57.68],"nice":false,"zero":false}},"detail":{"field":"s"},"color":{"field":"k","type":"nominal","legend":null,"scale":{"domain":["p","y","b","g","red","green","gold","navy","white","time","lime","up","down"],"range":["#f96c6c","#f9d03c","#3c9cf5","#2de63c","#c81e1e","#2ec02e","#e6e620","#1414e0","#d8d8d8","#b82020","#b0f040","#e01818","#40d020"]}}}},
{"data":{"name":"diam"},"mark":{"type":"point","shape":"diamond","filled":true,"size":70,"color":"#14e020","opacity":1,"clip":true},"encoding":{"y":{"field":"p","type":"quantitative","axis":null,"scale":{"domain":[39.36,57.68],"nice":false,"zero":false}}}},
{"data":{"name":"lead"},"mark":{"type":"rule","strokeWidth":1,"color":"#c0c0c0","clip":true},"encoding":{"x2":{"field":"i2"},"y":{"field":"p","type":"quantitative","axis":null,"scale":{"domain":[39.36,57.68],"nice":false,"zero":false}},"y2":{"field":"p2"}}},
{"data":{"name":"pricetext"},"mark":{"type":"text","align":"left","baseline":"middle","font":"Liberation Sans","fontSize":12,"color":"#b8b8b8","clip":true},"encoding":{"y":{"field":"p","type":"quantitative","axis":null,"scale":{"domain":[39.36,57.68],"nice":false,"zero":false}},"text":{"field":"t"}}},
{"data":{"name":"dif"},"mark":{"type":"line","strokeWidth":1,"color":"#e8e8e8","clip":true},"encoding":{"y":{"field":"v","type":"quantitative","axis":null,"scale":{"domain":[-175,741],"nice":false,"zero":false}}}},
{"data":{"name":"dea"},"mark":{"type":"line","strokeWidth":1,"color":"#e0d820","clip":true},"encoding":{"y":{"field":"v","type":"quantitative","axis":null,"scale":{"domain":[-175,741],"nice":false,"zero":false}}}},
{"data":{"name":"thick"},"mark":{"type":"line","strokeWidth":2.6,"color":"#20e020","clip":true},"encoding":{"y":{"field":"v","type":"quantitative","axis":null,"scale":{"domain":[-175,741],"nice":false,"zero":false}},"detail":{"field":"s"}}},
{"data":{"name":"hist"},"mark":{"type":"bar","size":4,"clip":true},"encoding":{"y":{"field":"v","type":"quantitative","axis":null,"scale":{"domain":[-175,741],"nice":false,"zero":false}},"y2":{"datum":0},"color":{"field":"c","type":"nominal","legend":null,"scale":{"domain":["p","y","b","g","red","green","gold","navy","white","time","lime","up","down"],"range":["#f96c6c","#f9d03c","#3c9cf5","#2de63c","#c81e1e","#2ec02e","#e6e620","#1414e0","#d8d8d8","#b82020","#b0f040","#e01818","#40d020"]}}}},
{"data":{"name":"signalY"},"mark":{"type":"bar","size":7,"color":"#ffff00","clip":true},"encoding":{"y":{"field":"v","type":"quantitative","axis":null,"scale":{"domain":[-175,741],"nice":false,"zero":false}},"y2":{"datum":0}}},
{"data":{"name":"signalM"},"mark":{"type":"bar","size":7,"color":"#ff00ff","clip":true},"encoding":{"y":{"field":"v","type":"quantitative","axis":null,"scale":{"domain":[-175,741],"nice":false,"zero":false}},"y2":{"datum":0}}},
{"data":{"values":[{"i":-0.6,"i2":243.6,"v":0}]},"mark":{"type":"rule","strokeWidth":2,"color":"#f01818","clip":true},"encoding":{"x2":{"field":"i2"},"y":{"field":"v","type":"quantitative","axis":null,"scale":{"domain":[-175,741],"nice":false,"zero":false}}}},
{"data":{"name":"arrows"},"mark":{"type":"point","shape":"M0,-1 L1,0 L0.3,0 L0.3,1 L-0.3,1 L-0.3,0 L-1,0 Z","filled":true,"size":100,"color":"#f01010","opacity":1,"clip":true},"encoding":{"y":{"field":"v","type":"quantitative","axis":null,"scale":{"domain":[-175,741],"nice":false,"zero":false}}}},
{"data":{"name":"cursor"},"mark":{"type":"point","shape":"M-0.7,-1 L0.6,0.2 L0,0.2 L0.4,1 L0.1,1 L-0.2,0.3 L-0.7,0.7 Z","filled":true,"size":196,"color":"#a000f0","opacity":1,"clip":true},"encoding":{"y":{"field":"v","type":"quantitative","axis":null,"scale":{"domain":[-175,741],"nice":false,"zero":false}}}},
{"data":{"name":"dateband"},"mark":{"type":"rect","color":"#0a1a90","clip":true},"encoding":{"x2":{"field":"i2"},"y":{"field":"v","type":"quantitative","axis":null,"scale":{"domain":[-175,741],"nice":false,"zero":false}},"y2":{"field":"v2"}}},
{"data":{"name":"labels"},"mark":{"type":"text","align":"center","baseline":"middle","font":"Liberation Sans, Noto Sans CJK SC","fontSize":12,"clip":true},"encoding":{"y":{"field":"v","type":"quantitative","axis":null,"scale":{"domain":[-175,741],"nice":false,"zero":false}},"text":{"field":"t"},"color":{"field":"k","type":"nominal","legend":null,"scale":{"domain":["p","y","b","g","red","green","gold","navy","white","time","lime","up","down"],"range":["#f96c6c","#f9d03c","#3c9cf5","#2de63c","#c81e1e","#2ec02e","#e6e620","#1414e0","#d8d8d8","#b82020","#b0f040","#e01818","#40d020"]}}}},
{"data":{"name":"header"},"mark":{"type":"text","align":"left","baseline":"middle","font":"Liberation Sans, Noto Sans CJK SC","fontSize":12,"clip":true},"encoding":{"y":{"field":"v","type":"quantitative","axis":null,"scale":{"domain":[-175,741],"nice":false,"zero":false}},"text":{"field":"t"},"color":{"field":"k","type":"nominal","legend":null,"scale":{"domain":["p","y","b","g","red","green","gold","navy","white","time","lime","up","down"],"range":["#f96c6c","#f9d03c","#3c9cf5","#2de63c","#c81e1e","#2ec02e","#e6e620","#1414e0","#d8d8d8","#b82020","#b0f040","#e01818","#40d020"]}}}}
]}
